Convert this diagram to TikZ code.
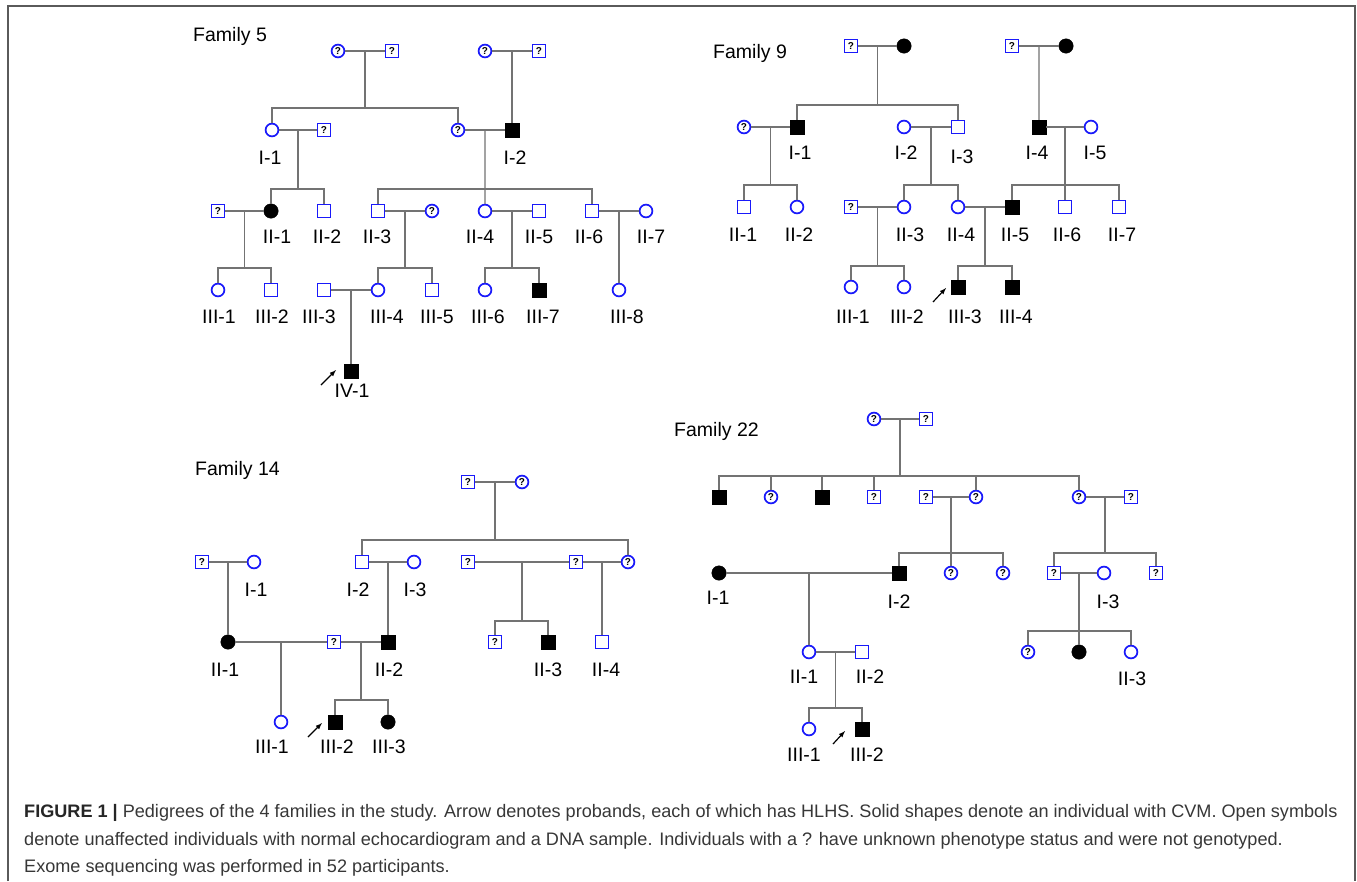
\documentclass[tikz,border=0pt]{standalone}
\usepackage{fontspec}
\setmainfont{Liberation Sans}
\usetikzlibrary{positioning}
\definecolor{pedblue}{RGB}{25,25,250}
\definecolor{pedgray}{RGB}{115,115,115}
\definecolor{capgray}{RGB}{55,55,55}
\definecolor{framegray}{RGB}{90,90,90}
\tikzset{
  male/.style={rectangle,draw=pedblue,line width=1.7pt,fill=white,minimum size=12.8pt,inner sep=0pt},
  female/.style={circle,draw=pedblue,line width=1.7pt,fill=white,minimum size=12.8pt,inner sep=0pt},
  maleaff/.style={rectangle,draw=black,fill=black,minimum size=14.5pt,inner sep=0pt,outer sep=0pt},
  femaff/.style={circle,draw=black,fill=black,minimum size=14.5pt,inner sep=0pt,outer sep=0pt},
  unk/.style={font=\fontsize{10}{10}\selectfont\bfseries},
  rel/.style={draw=pedgray,line width=1.3pt},
  lbl/.style={font=\fontsize{19.5}{22}\selectfont,inner sep=0pt},
  famtitle/.style={font=\fontsize{19.5}{22}\selectfont,inner sep=0pt,anchor=base west},
  proband/.style={-latex,line width=1.2pt},
  capt/.style={font=\fontsize{18.1}{21}\selectfont,text=capgray,inner sep=0pt,anchor=base west}
}
\begin{document}
\begin{tikzpicture}[x=1pt,y=-1pt]
\useasboundingbox (0,0) rectangle (1357,881);
\fill[white] (0,0) rectangle (1357,881);
\draw[framegray,line width=1.5pt] (8,881) -- (8,6) -- (1355,6) -- (1355,881);

% Family 5
\node[famtitle] (t5) at (193,41) {Family 5};
\node[female,unk] (q5a) at (338,51) {?};
\node[male,unk] (q5b) at (392,51) {?};
\node[female,unk] (q5c) at (485,51) {?};
\node[male,unk] (q5d) at (539,51) {?};
\node[female] (f5i1) at (272,130) {};
\node[male,unk] (q5e) at (324,130) {?};
\node[female,unk] (q5f) at (458,130) {?};
\node[maleaff] (f5i2) at (512,130) {};
\node[male,unk] (q5g) at (218,211) {?};
\node[femaff] (f5ii1) at (271,211) {};
\node[male] (f5ii2) at (324,211) {};
\node[male] (f5ii3) at (378,211) {};
\node[female,unk] (q5h) at (432,211) {?};
\node[female] (f5ii4) at (485,211) {};
\node[male] (f5ii5) at (539,211) {};
\node[male] (f5ii6) at (592,211) {};
\node[female] (f5ii7) at (646,211) {};
\node[female] (f5iii1) at (218,290) {};
\node[male] (f5iii2) at (271,290) {};
\node[male] (f5iii3) at (324,290) {};
\node[female] (f5iii4) at (378,290) {};
\node[male] (f5iii5) at (432,290) {};
\node[female] (f5iii6) at (485,290) {};
\node[maleaff] (f5iii7) at (539,290) {};
\node[female] (f5iii8) at (619,290) {};
\node[maleaff] (f5iv1) at (351,371) {};

\node[lbl] (l5i1) at (270,158) {I-1};
\node[lbl] (l5i2) at (515,158) {I-2};
\node[lbl] (l5ii1) at (277,237) {II-1};
\node[lbl] (l5ii2) at (327,237) {II-2};
\node[lbl] (l5ii3) at (377,237) {II-3};
\node[lbl] (l5ii4) at (480,237) {II-4};
\node[lbl] (l5ii5) at (539,237) {II-5};
\node[lbl] (l5ii6) at (589,237) {II-6};
\node[lbl] (l5ii7) at (651,237) {II-7};
\node[lbl] (l5iii1) at (219,317) {III-1};
\node[lbl] (l5iii2) at (272,317) {III-2};
\node[lbl] (l5iii3) at (319,317) {III-3};
\node[lbl] (l5iii4) at (387,317) {III-4};
\node[lbl] (l5iii5) at (437,317) {III-5};
\node[lbl] (l5iii6) at (488,317) {III-6};
\node[lbl] (l5iii7) at (543,317) {III-7};
\node[lbl] (l5iii8) at (627,317) {III-8};
\node[lbl] (l5iv1) at (352,391) {IV-1};

\draw[rel] (q5a) -- coordinate (m5a) (q5b);
\draw[rel] (m5a) -- (m5a |- 0,108) coordinate (s5a);
\draw[rel] (f5i1) |- (s5a) -| (q5f);
\draw[rel] (q5c) -- coordinate (m5b) (q5d);
\draw[rel] (m5b) -- (f5i2);
\draw[rel] (f5i1) -- coordinate (m5c) (q5e);
\draw[rel] (m5c) -- (m5c |- 0,189) coordinate (s5c);
\draw[rel] (f5ii1) |- (s5c) -| (f5ii2);
\draw[rel] (q5f) -- coordinate (m5d) (f5i2);
\draw[rel] (m5d) -- (f5ii4);
\draw[rel] (f5ii3) |- (m5d |- 0,189) -| (f5ii6);
\draw[rel] (q5g) -- coordinate (m5e) (f5ii1);
\draw[rel] (m5e) -- (m5e |- 0,268) coordinate (s5e);
\draw[rel] (f5iii1) |- (s5e) -| (f5iii2);
\draw[rel] (f5ii3) -- coordinate (m5f) (q5h);
\draw[rel] (m5f) -- (m5f |- 0,268) coordinate (s5f);
\draw[rel] (f5iii4) |- (s5f) -| (f5iii5);
\draw[rel] (f5ii4) -- coordinate (m5g) (f5ii5);
\draw[rel] (m5g) -- (m5g |- 0,268) coordinate (s5g);
\draw[rel] (f5iii6) |- (s5g) -| (f5iii7);
\draw[rel] (f5ii6) -- coordinate (m5h) (f5ii7);
\draw[rel] (m5h) -- (f5iii8);
\draw[rel] (f5iii3) -- coordinate (m5i) (f5iii4);
\draw[rel] (m5i) -- (f5iv1);
\coordinate (p5s) at (321,385);
\coordinate (p5e) at (336,370);
\draw[proband] (p5s) -- (p5e);

% Family 9
\node[famtitle] (t9) at (713,58) {Family 9};
\node[male,unk] (q9a) at (851,46) {?};
\node[femaff] (f9a) at (904,46) {};
\node[male,unk] (q9b) at (1012,46) {?};
\node[femaff] (f9b) at (1066,46) {};
\node[female,unk] (q9c) at (744,127) {?};
\node[maleaff] (f9i1) at (797,127) {};
\node[female] (f9i2) at (904,127) {};
\node[male] (f9i3) at (958,127) {};
\node[maleaff] (f9i4) at (1039,127) {};
\node[female] (f9i5) at (1091,127) {};
\node[male] (f9ii1) at (744,207) {};
\node[female] (f9ii2) at (797,207) {};
\node[male,unk] (q9d) at (851,207) {?};
\node[female] (f9ii3) at (904,207) {};
\node[female] (f9ii4) at (958,207) {};
\node[maleaff] (f9ii5) at (1012,207) {};
\node[male] (f9ii6) at (1065,207) {};
\node[male] (f9ii7) at (1119,207) {};
\node[female] (f9iii1) at (851,287) {};
\node[female] (f9iii2) at (904,287) {};
\node[maleaff] (f9iii3) at (958,287) {};
\node[maleaff] (f9iii4) at (1012,287) {};

\node[lbl] (l9i1) at (800,153) {I-1};
\node[lbl] (l9i2) at (906,153) {I-2};
\node[lbl] (l9i3) at (962,157) {I-3};
\node[lbl] (l9i4) at (1037,153) {I-4};
\node[lbl] (l9i5) at (1095,153) {I-5};
\node[lbl] (l9ii1) at (743,235) {II-1};
\node[lbl] (l9ii2) at (799,235) {II-2};
\node[lbl] (l9ii3) at (910,235) {II-3};
\node[lbl] (l9ii4) at (961,235) {II-4};
\node[lbl] (l9ii5) at (1015,235) {II-5};
\node[lbl] (l9ii6) at (1067,235) {II-6};
\node[lbl] (l9ii7) at (1122,235) {II-7};
\node[lbl] (l9iii1) at (853,317) {III-1};
\node[lbl] (l9iii2) at (907,317) {III-2};
\node[lbl] (l9iii3) at (965,317) {III-3};
\node[lbl] (l9iii4) at (1016,317) {III-4};

\draw[rel] (q9a) -- coordinate (m9a) (f9a);
\draw[rel] (m9a) -- (m9a |- 0,105) coordinate (s9a);
\draw[rel] (f9i1) |- (s9a) -| (f9i3);
\draw[rel] (q9b) -- coordinate (m9b) (f9b);
\draw[rel] (m9b) -- (f9i4);
\draw[rel] (q9c) -- coordinate (m9c) (f9i1);
\draw[rel] (m9c) -- (m9c |- 0,185) coordinate (s9c);
\draw[rel] (f9ii1) |- (s9c) -| (f9ii2);
\draw[rel] (f9i2) -- coordinate (m9d) (f9i3);
\draw[rel] (m9d) -- (m9d |- 0,185) coordinate (s9d);
\draw[rel] (f9ii3) |- (s9d) -| (f9ii4);
\draw[rel] (f9i4) -- coordinate (m9e) (f9i5);
\draw[rel] (m9e) -- (f9ii6);
\draw[rel] (f9ii5) |- (m9e |- 0,185) -| (f9ii7);
\draw[rel] (q9d) -- coordinate (m9f) (f9ii3);
\draw[rel] (m9f) -- (m9f |- 0,266) coordinate (s9f);
\draw[rel] (f9iii1) |- (s9f) -| (f9iii2);
\draw[rel] (f9ii4) -- coordinate (m9g) (f9ii5);
\draw[rel] (m9g) -- (m9g |- 0,266) coordinate (s9g);
\draw[rel] (f9iii3) |- (s9g) -| (f9iii4);
\coordinate (p9s) at (933,302);
\coordinate (p9e) at (946,288);
\draw[proband] (p9s) -- (p9e);

% Family 14
\node[famtitle] (t14) at (195,475) {Family 14};
\node[male,unk] (q14a) at (468,482) {?};
\node[female,unk] (q14b) at (522,482) {?};
\node[male,unk] (q14c) at (202,562) {?};
\node[female] (f14i1) at (254,562) {};
\node[male] (f14i2) at (362,562) {};
\node[female] (f14i3) at (414,562) {};
\node[male,unk] (q14d) at (468,562) {?};
\node[male,unk] (q14e) at (576,562) {?};
\node[female,unk] (q14f) at (628,562) {?};
\node[femaff] (f14ii1) at (228,642) {};
\node[male,unk] (q14g) at (334,642) {?};
\node[maleaff] (f14ii2) at (388,642) {};
\node[male,unk] (q14h) at (495,642) {?};
\node[maleaff] (f14ii3) at (548,642) {};
\node[male] (f14ii4) at (602,642) {};
\node[female] (f14iii1) at (281,722) {};
\node[maleaff] (f14iii2) at (335,722) {};
\node[femaff] (f14iii3) at (388,722) {};

\node[lbl] (l14i1) at (256,590) {I-1};
\node[lbl] (l14i2) at (358,590) {I-2};
\node[lbl] (l14i3) at (415,590) {I-3};
\node[lbl] (l14ii1) at (225,670) {II-1};
\node[lbl] (l14ii2) at (389,670) {II-2};
\node[lbl] (l14ii3) at (548,670) {II-3};
\node[lbl] (l14ii4) at (606,670) {II-4};
\node[lbl] (l14iii1) at (272,747) {III-1};
\node[lbl] (l14iii2) at (337,747) {III-2};
\node[lbl] (l14iii3) at (389,747) {III-3};

\draw[rel] (q14a) -- coordinate (m14a) (q14b);
\draw[rel] (m14a) -- (m14a |- 0,540) coordinate (s14a);
\draw[rel] (f14i2) |- (s14a) -| (q14f);
\draw[rel] (q14c) -- coordinate (m14b) (f14i1);
\draw[rel] (m14b) -- (f14ii1);
\draw[rel] (f14i2) -- coordinate (m14c) (f14i3);
\draw[rel] (m14c) -- (f14ii2);
\draw[rel] (q14d) -- coordinate (m14d) (q14e);
\draw[rel] (m14d) -- (m14d |- 0,621) coordinate (s14d);
\draw[rel] (q14h) |- (s14d) -| (f14ii3);
\draw[rel] (q14e) -- coordinate (m14e) (q14f);
\draw[rel] (m14e) -- (f14ii4);
\draw[rel] (f14ii1) -- coordinate (m14f) (q14g);
\draw[rel] (m14f) -- (f14iii1);
\draw[rel] (q14g) -- coordinate (m14g) (f14ii2);
\draw[rel] (m14g) -- (m14g |- 0,700) coordinate (s14g);
\draw[rel] (f14iii2) |- (s14g) -| (f14iii3);
\coordinate (p14s) at (308,737);
\coordinate (p14e) at (322,723);
\draw[proband] (p14s) -- (p14e);

% Family 22
\node[famtitle] (t22) at (674,436) {Family 22};
\node[female,unk] (q22a) at (874,419) {?};
\node[male,unk] (q22b) at (926,419) {?};
\node[maleaff] (f22a) at (719,497) {};
\node[female,unk] (q22c) at (771,497) {?};
\node[maleaff] (f22b) at (822,497) {};
\node[male,unk] (q22d) at (874,497) {?};
\node[male,unk] (q22e) at (926,497) {?};
\node[female,unk] (q22f) at (976,497) {?};
\node[female,unk] (q22g) at (1079,497) {?};
\node[male,unk] (q22h) at (1131,497) {?};
\node[femaff] (f22i1) at (719,573) {};
\node[maleaff] (f22i2) at (899,573) {};
\node[female,unk] (q22i) at (951,573) {?};
\node[female,unk] (q22j) at (1003,573) {?};
\node[male,unk] (q22k) at (1054,573) {?};
\node[female] (f22i3) at (1104,573) {};
\node[male,unk] (q22l) at (1156,573) {?};
\node[female] (f22ii1) at (809,652) {};
\node[male] (f22ii2) at (862,652) {};
\node[female,unk] (q22m) at (1028,652) {?};
\node[femaff] (f22c) at (1079,652) {};
\node[female] (f22ii3) at (1131,652) {};
\node[female] (f22iii1) at (809,729) {};
\node[maleaff] (f22iii2) at (862,729) {};

\node[lbl] (l22i1) at (718,598) {I-1};
\node[lbl] (l22i2) at (899,602) {I-2};
\node[lbl] (l22i3) at (1108,602) {I-3};
\node[lbl] (l22ii1) at (804,677) {II-1};
\node[lbl] (l22ii2) at (870,677) {II-2};
\node[lbl] (l22ii3) at (1132,679) {II-3};
\node[lbl] (l22iii1) at (804,755) {III-1};
\node[lbl] (l22iii2) at (867,755) {III-2};

\draw[rel] (q22a) -- coordinate (m22a) (q22b);
\draw[rel] (m22a) -- (m22a |- 0,476) coordinate (s22a);
\draw[rel] (f22a) |- (s22a) -| (q22g);
\foreach \kid in {q22c,f22b,q22d,q22f}
  \draw[rel] (\kid) -- (\kid |- s22a);
\draw[rel] (q22e) -- coordinate (m22b) (q22f);
\draw[rel] (m22b) -- (q22i);
\draw[rel] (f22i2) |- (m22b |- 0,553) -| (q22j);
\draw[rel] (q22g) -- coordinate (m22c) (q22h);
\draw[rel] (m22c) -- (m22c |- 0,553) coordinate (s22c);
\draw[rel] (q22k) |- (s22c) -| (q22l);
\draw[rel] (f22i1) -- coordinate (m22d) (f22i2);
\draw[rel] (m22d) -- (f22ii1);
\draw[rel] (q22k) -- coordinate (m22e) (f22i3);
\draw[rel] (m22e) -- (f22c);
\draw[rel] (q22m) |- (m22e |- 0,631) -| (f22ii3);
\draw[rel] (f22ii1) -- coordinate (m22f) (f22ii2);
\draw[rel] (m22f) -- (m22f |- 0,708) coordinate (s22f);
\draw[rel] (f22iii1) |- (s22f) -| (f22iii2);
\coordinate (p22s) at (833,744);
\coordinate (p22e) at (845,731);
\draw[proband] (p22s) -- (p22e);

% caption
\node[capt] (cap1) at (24,817) {\textbf{\color{black!85}FIGURE 1 |} Pedigrees of the 4 families in the study. Arrow denotes probands, each of which has HLHS. Solid shapes denote an individual with CVM. Open symbols};
\node[capt] (cap2) at (24,845) {denote unaffected individuals with normal echocardiogram and a DNA sample. Individuals with a ? have unknown phenotype status and were not genotyped.};
\node[capt] (cap3) at (24,872) {Exome sequencing was performed in 52 participants.};
\end{tikzpicture}
\end{document}
